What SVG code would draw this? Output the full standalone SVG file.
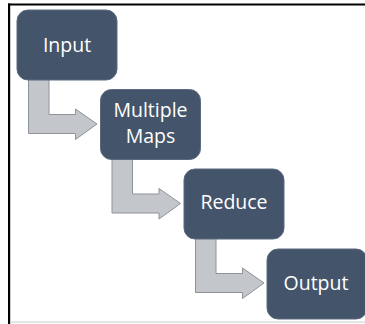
<svg xmlns="http://www.w3.org/2000/svg" width="365" height="324" viewBox="0 0 365 324">
<style>
.box{fill:#44546A;stroke:#5b6a7e;stroke-width:1}
.arr{fill:#C3C6CA;stroke:#8E939A;stroke-width:1;stroke-linejoin:miter}
.lbl{font-family:"Open Sans","DejaVu Sans",sans-serif;font-size:19.5px;fill:#ffffff;text-anchor:middle}
</style>
<defs>
<path id="bend" d="M11.5,60 L32,60 L32,104.5 L58.5,104.5 L58.5,99 L80,114 L58.5,129.5 L58.5,123.5 L11.5,123.5 Z"/>
</defs>
<rect x="0" y="0" width="365" height="324" fill="#ffffff"/>
<rect x="8" y="3.5" width="357" height="2" fill="#000"/>
<rect x="8" y="3.5" width="2.2" height="320.5" fill="#000"/>
<rect x="10" y="321.5" width="355" height="1.2" fill="#d4d4d4"/>
<g id="connectors">
<use href="#bend" class="arr" transform="translate(17,10)"/>
<use href="#bend" class="arr" transform="translate(100.5,89.5)"/>
<use href="#bend" class="arr" transform="translate(184,169)"/>
</g>
<g id="input">
<rect class="box" x="17" y="10" width="100" height="70" rx="11"/>
<text class="lbl" x="67" y="52">Input</text>
</g>
<g id="maps">
<rect class="box" x="100.5" y="89.5" width="100" height="70" rx="11"/>
<text class="lbl" x="150.5" y="117">Multiple</text>
<text class="lbl" x="150.5" y="143">Maps</text>
</g>
<g id="reduce">
<rect class="box" x="184" y="169" width="100" height="70" rx="11"/>
<text class="lbl" x="234" y="209">Reduce</text>
</g>
<g id="output">
<rect class="box" x="267" y="249" width="100" height="70" rx="11"/>
<text class="lbl" x="316" y="290">Output</text>
</g>
</svg>
